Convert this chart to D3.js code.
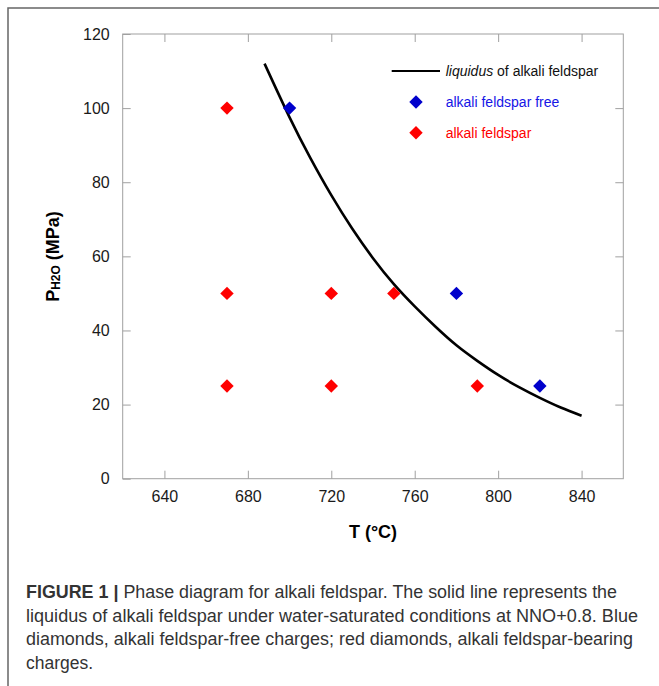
<!DOCTYPE html>
<html lang="en">
<head>
    <meta charset="UTF-8">
    <title>Phase diagram for alkali feldspar</title>
    <script src="https://cdnjs.cloudflare.com/ajax/libs/d3/7.8.5/d3.min.js" charset="utf-8"></script>
    <style>
        body { margin: 0; background: #fff; }
        svg { display: block; font-family: "Liberation Sans", Arial, Helvetica, sans-serif; }
        .axis path.domain { display: none; }
        .axis line { stroke: #a0a0a0; stroke-width: 1px; }
        .axis text { font-size: 16px; fill: #1a1a1a; }
    </style>
</head>
<body>
<svg width="659" height="686"></svg>
<script>
    // data
    var xTicks = [640, 680, 720, 760, 800, 840];
    var yTicks = [0, 20, 40, 60, 80, 100, 120];

    var freeT = [700, 780, 820];      // alkali feldspar free (blue)
    var freeP = [100, 50, 25];

    var feldT = [670, 670, 670, 720, 720, 750, 790];   // alkali feldspar (red)
    var feldP = [100, 50, 25, 50, 25, 50, 25];

    // liquidus curve, points
    var liqT = [688, 700, 710, 720, 730, 740, 750, 760, 770, 780, 790, 800, 810, 820, 830, 840];
    var liqP = [112, 97.5, 86.5, 76.5, 67.5, 59.5, 52.5, 46.5, 41, 36, 31.8, 28, 24.7, 21.8, 19.2, 17];

    var captionLines = [
        "Phase diagram for alkali feldspar. The solid line represents the",
        "liquidus of alkali feldspar under water-saturated conditions at NNO+0.8. Blue",
        "diamonds, alkali feldspar-free charges; red diamonds, alkali feldspar-bearing",
        "charges."
    ];

    var svg = d3.select("svg");

    // figure frame (left + top edge)
    svg.append("path")
        .attr("d", "M8,686V8H659")
        .attr("fill", "none")
        .attr("stroke", "#666")
        .attr("stroke-width", 1.5);

    var pLeft = 122.7, pRight = 623.3, pTop = 34, pBottom = 478.7;

    var x = d3.scaleLinear().domain([620, 860]).range([pLeft, pRight]);
    var y = d3.scaleLinear().domain([0, 120]).range([pBottom, pTop]);

    // plot box
    svg.append("rect")
        .attr("x", pLeft).attr("y", pTop)
        .attr("width", pRight - pLeft).attr("height", pBottom - pTop)
        .attr("fill", "none")
        .attr("stroke", "#a0a0a0")
        .attr("stroke-width", 1);

    // axes, ticks point inwards
    svg.append("g").attr("class", "axis")
        .attr("transform", "translate(0," + pBottom + ")")
        .call(d3.axisBottom(x).tickValues(xTicks).tickSize(-8).tickSizeOuter(0).tickPadding(12));

    svg.append("g").attr("class", "axis")
        .attr("transform", "translate(0," + pTop + ")")
        .call(d3.axisTop(x).tickValues(xTicks).tickSize(-8).tickSizeOuter(0).tickFormat(""));

    svg.append("g").attr("class", "axis")
        .attr("transform", "translate(" + pLeft + ",0)")
        .call(d3.axisLeft(y).tickValues(yTicks).tickSize(-8).tickSizeOuter(0).tickPadding(13));

    svg.append("g").attr("class", "axis")
        .attr("transform", "translate(" + pRight + ",0)")
        .call(d3.axisRight(y).tickValues(yTicks.slice(1, -1)).tickSize(-8).tickSizeOuter(0).tickFormat(""));

    // liquidus line
    var line = d3.line()
        .x(function (d, i) { return x(liqT[i]); })
        .y(function (d, i) { return y(liqP[i]); })
        .curve(d3.curveNatural);

    svg.append("path")
        .datum(liqT)
        .attr("d", line)
        .attr("fill", "none")
        .attr("stroke", "#000")
        .attr("stroke-width", 2.6);

    var diamond = d3.symbol().type(d3.symbolSquare).size(90);

    function drawPoints(ts, ps, color) {
        svg.append("g").selectAll("path")
            .data(ts)
            .enter()
            .append("path")
            .attr("d", diamond)
            .attr("fill", color)
            .attr("transform", function (d, i) {
                return "translate(" + x(d) + "," + y(ps[i]) + ") rotate(45)";
            });
    }
    drawPoints(feldT, feldP, "#ff0000");
    drawPoints(freeT, freeP, "#0000cc");

    // legend
    var lg = svg.append("g").style("font-size", "14px");
    lg.append("line")
        .attr("x1", 391.7).attr("x2", 440).attr("y1", 71).attr("y2", 71)
        .attr("stroke", "#000").attr("stroke-width", 2);
    var lt = lg.append("text").attr("x", 445.7).attr("y", 76).attr("fill", "#111");
    lt.append("tspan").style("font-style", "italic").text("liquidus");
    lt.append("tspan").text(" of alkali feldspar");

    lg.append("path").attr("d", diamond)
        .attr("fill", "#0000cc")
        .attr("transform", "translate(416,102) rotate(45)");
    lg.append("text").attr("x", 445.7).attr("y", 107)
        .attr("fill", "#1515e6").text("alkali feldspar free");

    lg.append("path").attr("d", diamond)
        .attr("fill", "#ff0000")
        .attr("transform", "translate(416,132.7) rotate(45)");
    lg.append("text").attr("x", 445.7).attr("y", 137.7)
        .attr("fill", "#ff0000").text("alkali feldspar");

    // axis titles
    svg.append("text")
        .attr("x", 373).attr("y", 538)
        .attr("text-anchor", "middle")
        .style("font-size", "18px").style("font-weight", "bold")
        .text("T (\u00b0C)");

    var yt = svg.append("text")
        .attr("transform", "translate(59,256.5) rotate(-90)")
        .attr("text-anchor", "middle")
        .style("font-size", "18px").style("font-weight", "bold");
    yt.append("tspan").text("P");
    yt.append("tspan").attr("dy", 1).style("font-size", "12px").text("H2O");
    yt.append("tspan").attr("dy", -1).text(" (MPa)");

    // caption
    var cap = svg.append("g")
        .style("font-size", "17.5px")
        .attr("fill", "#333");
    var lineWidths = [591, 612, 607, null];
    captionLines.forEach(function (s, i) {
        var t = cap.append("text")
            .attr("x", 26)
            .attr("y", 598 + i * 23.5);
        if (i === 0) {
            t.append("tspan").style("font-weight", "bold").text("FIGURE 1 | ");
        }
        t.append("tspan").text(s);
        if (lineWidths[i]) {
            t.attr("textLength", lineWidths[i]).attr("lengthAdjust", "spacingAndGlyphs");
        }
    });
</script>
</body>
</html>
